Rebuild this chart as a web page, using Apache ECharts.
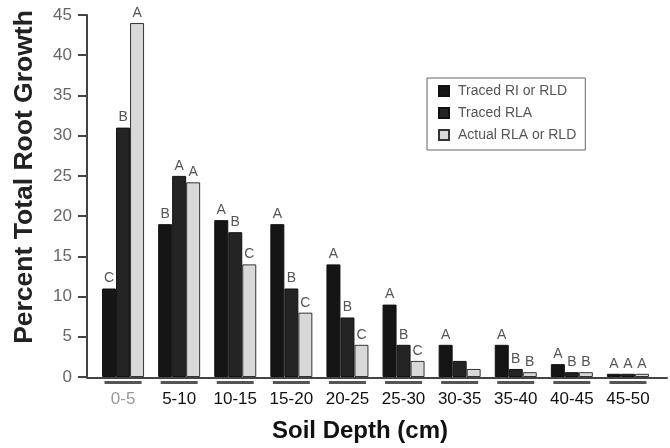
<!DOCTYPE html>
<html>
<head>
<meta charset="utf-8">
<script src="https://cdn.jsdelivr.net/npm/echarts@6/dist/echarts.min.js"></script>
<style>html,body{margin:0;padding:0;background:#fff}#c{width:670px;height:448px}</style>
</head>
<body>
<div id="c"></div>
<script>
var categories = ['0-5','5-10','10-15','15-20','20-25','25-30','30-35','35-40','40-45','45-50'];
var seriesNames = ['Traced RI or RLD','Traced RLA','Actual RLA or RLD'];
var tracedRI = [11, 19, 19.5, 19, 14, 9, 4, 4, 1.6, 0.4];
var tracedRLA = [31, 25, 18, 11, 7.4, 4, 2, 1, 0.6, 0.4];
var actualRLA = [44, 24.2, 14, 8, 4, 2, 1, 0.6, 0.6, 0.4];
var lettersRI = ['C','B','A','A','A','A','A','A','A','A'];
var lettersRLA = ['B','A','B','B','B','B','','B','B','A'];
var lettersActual = ['A','A','C','C','C','C','','B','B','A'];
var yTicks = {min: 0, max: 45, interval: 5};

var FONT = '"Liberation Sans", Arial, sans-serif';
var chart = echarts.init(document.getElementById('c'));

function labelFor(letters) {
  return {
    show: true, position: 'top', distance: 3,
    fontFamily: FONT, fontSize: 14, color: '#555',
    formatter: function (p) { return letters[p.dataIndex]; }
  };
}

chart.setOption({
  animation: false,
  backgroundColor: '#fff',
  textStyle: {fontFamily: FONT},
  grid: [
    {left: 95, right: 14, top: 15, bottom: 70},
    {left: 87, right: 3, top: 15, bottom: 70}
  ],
  legend: {
    orient: 'vertical', left: 427, top: 78,
    padding: [6, 9, 8, 11],
    icon: 'rect',
    itemWidth: 10, itemHeight: 10, itemGap: 8,
    borderColor: '#666', borderWidth: 1,
    textStyle: {fontFamily: FONT, fontSize: 14, color: '#555', padding: [0, 0, 0, 4]},
    data: seriesNames
  },
  xAxis: [
    {
      type: 'category', gridIndex: 0, data: categories,
      axisLine: {show: false}, axisTick: {show: false},
      axisLabel: {
        margin: 4, interval: 0,
        formatter: function (v, i) { return '{u|}\n{' + (i === 0 ? 'g' : 't') + '|' + v + '}'; },
        rich: {
          u: {width: 37, height: 3, backgroundColor: '#555', lineHeight: 3},
          t: {fontFamily: FONT, fontSize: 17, color: '#111', lineHeight: 30},
          g: {fontFamily: FONT, fontSize: 17, color: '#999', lineHeight: 30}
        }
      },
      name: 'Soil Depth (cm)', nameLocation: 'middle', nameGap: 42,
      nameTextStyle: {fontFamily: FONT, fontSize: 24, fontWeight: 'bold', color: '#111', padding: [0, 31, 0, 0]}
    },
    {
      type: 'value', gridIndex: 1, min: 0, max: 1,
      axisLine: {show: true, lineStyle: {color: '#444', width: 2}},
      axisTick: {show: false}, axisLabel: {show: false}, splitLine: {show: false}
    }
  ],
  yAxis: [
    {
      type: 'value', gridIndex: 0, min: yTicks.min, max: yTicks.max, interval: yTicks.interval,
      offset: 8,
      axisLine: {show: true, lineStyle: {color: '#444', width: 2}},
      axisTick: {show: true, length: 9, lineStyle: {color: '#444', width: 2}},
      axisLabel: {margin: 15, fontFamily: FONT, fontSize: 17, color: '#666'},
      splitLine: {show: false},
      name: 'Percent Total Root Growth', nameLocation: 'middle', nameGap: 49,
      nameTextStyle: {fontFamily: FONT, fontSize: 26.5, fontWeight: 'bold', color: '#222', padding: [0, 0, 0, 38]}
    },
    {type: 'value', gridIndex: 1, show: false}
  ],
  series: [
    {
      name: seriesNames[0], type: 'bar', data: tracedRI, barWidth: 14, barGap: '0%',
      itemStyle: {color: '#151515', borderColor: '#111', borderWidth: 1},
      label: labelFor(lettersRI)
    },
    {
      name: seriesNames[1], type: 'bar', data: tracedRLA, barWidth: 14, barGap: '0%',
      itemStyle: {color: '#242424', borderColor: '#111', borderWidth: 1},
      label: labelFor(lettersRLA)
    },
    {
      name: seriesNames[2], type: 'bar', data: actualRLA, barWidth: 14, barGap: '0%',
      itemStyle: {color: '#d8d8d8', borderColor: '#333', borderWidth: 1},
      label: labelFor(lettersActual)
    }
  ]
});
</script>
</body>
</html>
